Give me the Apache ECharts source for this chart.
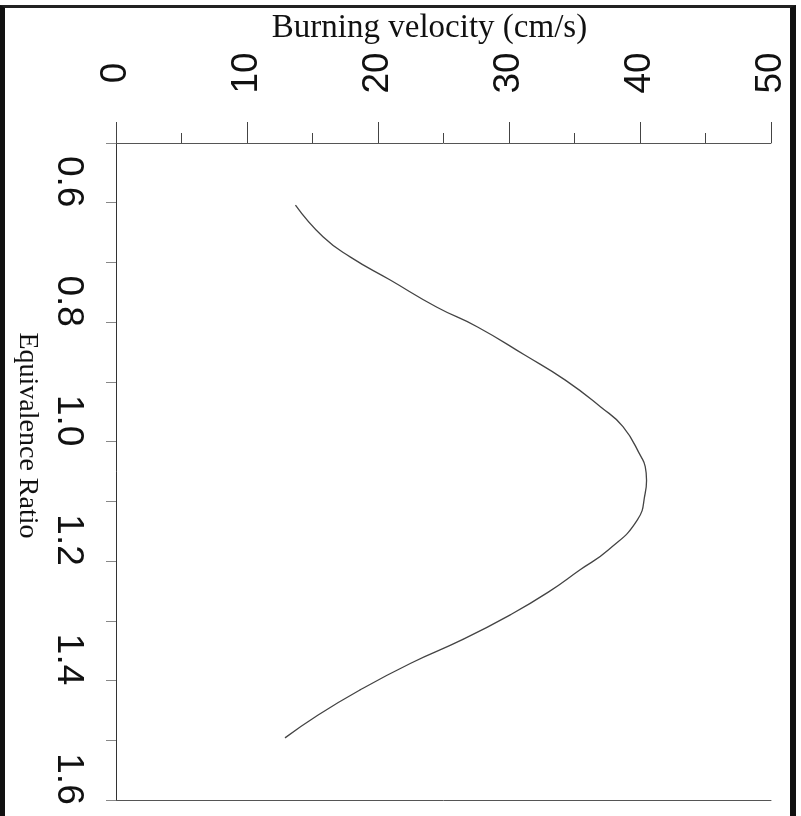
<!DOCTYPE html>
<html><head><meta charset="utf-8">
<script src="https://cdn.jsdelivr.net/npm/echarts@6/dist/echarts.min.js"></script>
<style>
html,body{margin:0;padding:0;background:#fff;}
#frame{position:absolute;left:0;top:5px;width:796px;height:811px;border-left:5px solid #111;border-top:3px solid #222;border-right:6px solid #111;box-sizing:border-box;}
#chart{position:absolute;left:0;top:0;width:801px;height:816px;}
</style></head><body>
<div id="frame"></div><div id="chart"></div>
<script>
// Equivalence ratio (vertical axis, 0.5 at top) and burning velocity (cm/s, horizontal axis on top)
const equivalenceRatio = [0.604, 0.657, 0.691, 0.729, 0.775, 0.808, 0.855, 0.897, 0.942, 0.975, 1.026, 1.042, 1.065, 1.086, 1.131, 1.181, 1.215, 1.252, 1.290, 1.332, 1.371, 1.416, 1.458, 1.496];
const burningVelocity  = [13.7, 15.8, 17.9, 20.9, 24.5, 27.6, 31.2, 34.3, 37.0, 38.7, 40.1, 40.4, 40.5, 40.4, 39.8, 37.6, 35.4, 33.0, 30.1, 26.4, 22.5, 18.6, 15.4, 12.9];
const velocityRange = [0, 50];
const ratioRange = [0.5, 1.6];
const velocityTitle = 'Burning velocity (cm/s)';
const ratioTitle = 'Equivalence Ratio';

const tickFont = '"Liberation Sans Narrow", "Arial Narrow", "Liberation Sans", sans-serif';
const titleFont = '"Liberation Serif", "Times New Roman", serif';

const chart = echarts.init(document.getElementById('chart'), null, {renderer: 'canvas'});
chart.setOption({
  animation: false,
  backgroundColor: 'transparent',
  grid: {left: 116, right: 30, top: 143, bottom: 16},
  xAxis: [{
    type: 'value', position: 'top',
    min: velocityRange[0], max: velocityRange[1], interval: 10,
    name: velocityTitle, nameLocation: 'middle', nameGap: 115,
    nameTextStyle: {fontFamily: titleFont, fontSize: 33, color: '#111', align: 'center', verticalAlign: 'middle', padding: [0, 28, 0, 0]},
    axisLine: {show: true, lineStyle: {color: '#555', width: 1}},
    axisTick: {show: true, inside: false, length: 21, lineStyle: {color: '#444', width: 1}},
    minorTick: {show: true, splitNumber: 2, length: 10, lineStyle: {color: '#444', width: 1}},
    splitLine: {show: false},
    axisLabel: {rotate: -90, margin: 70, align: 'center', verticalAlign: 'middle', padding: [0, 0, 8, 0],
      fontFamily: tickFont, fontSize: 37, color: '#111'}
  }, {
    type: 'value', position: 'bottom',
    min: velocityRange[0], max: velocityRange[1],
    axisLine: {show: true, lineStyle: {color: '#555', width: 1}},
    axisTick: {show: false}, axisLabel: {show: false}, splitLine: {show: false}
  }],
  yAxis: [{
    type: 'value', position: 'left', inverse: true,
    min: ratioRange[0], max: ratioRange[1], interval: 0.1,
    name: ratioTitle, nameLocation: 'middle', nameGap: 89, nameRotate: -90,
    nameTextStyle: {fontFamily: titleFont, fontSize: 28, color: '#111', align: 'center', verticalAlign: 'middle', padding: [0, 72, 0, 0]},
    axisLine: {show: true, lineStyle: {color: '#aaa', width: 1, type: 'dotted'}},
    axisTick: {show: true, inside: false, length: 10, lineStyle: {color: '#888', width: 1}},
    splitLine: {show: false},
    axisLabel: {rotate: -90, margin: 48, align: 'center', verticalAlign: 'middle', padding: [0, 42, 0, 0],
      fontFamily: tickFont, fontSize: 37, color: '#111',
      formatter: function (v) { const k = Math.round(v * 10); return k % 2 === 0 ? (k / 10).toFixed(1) : ''; }}
  }, {
    type: 'value', position: 'right', inverse: true,
    min: ratioRange[0], max: ratioRange[1],
    axisLine: {show: true, lineStyle: {color: '#333', width: 1}},
    axisTick: {show: false}, axisLabel: {show: false}, splitLine: {show: false}
  }],
  series: [{
    type: 'line', xAxisIndex: 0, yAxisIndex: 0,
    data: burningVelocity.map((v, i) => [v, equivalenceRatio[i]]),
    showSymbol: false, smooth: 0.5,
    lineStyle: {color: '#444', width: 1.3}
  }]
});
</script>
</body></html>
